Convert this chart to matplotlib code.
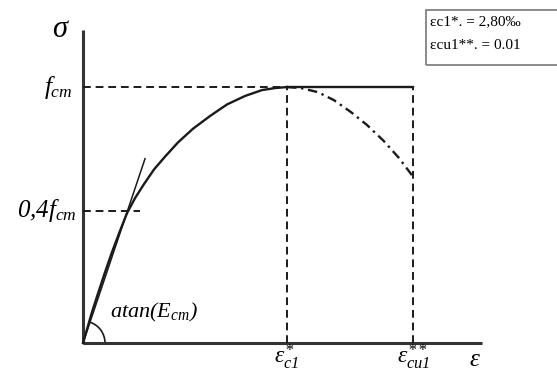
import matplotlib
matplotlib.use("Agg")
import matplotlib.pyplot as plt
from matplotlib.patches import Arc, Rectangle

plt.rcParams['mathtext.fontset'] = 'custom'
plt.rcParams['mathtext.rm'] = 'Liberation Serif:italic'
plt.rcParams['mathtext.it'] = 'Liberation Serif:italic'
plt.rcParams['mathtext.fallback'] = 'stix'
plt.rcParams['font.family'] = ['Liberation Serif', 'DejaVu Serif']

# strain in units of eps_c1, stress in units of f_cm
eps_c1 = 1.0
eps_cu1 = 1.62
f_cm = 1.0
lvl_04 = 0.516

# ascending branch
asc_x = [0.0, 0.020, 0.044, 0.074, 0.108, 0.142, 0.181, 0.216, 0.255, 0.299,
         0.348, 0.402, 0.466, 0.539, 0.623, 0.706, 0.794, 0.877, 0.941, 1.0]
asc_y = [0.0, 0.055, 0.121, 0.195, 0.277, 0.355, 0.4375, 0.508, 0.566, 0.621,
         0.678, 0.728, 0.784, 0.837, 0.887, 0.932, 0.965, 0.988, 0.996, 1.0]
# descending branch (dash-dot)
desc_x = [1.0, 1.069, 1.152, 1.230, 1.314, 1.392, 1.475, 1.549, 1.623]
desc_y = [1.0, 0.996, 0.980, 0.949, 0.902, 0.852, 0.789, 0.723, 0.645]
# secant line
sec_x = [0.0, 0.304]
sec_y = [0.0, 0.72]

legend_lines = ["εc1*. = 2,80‰", "εcu1**. = 0.01"]

fig = plt.figure(figsize=(5.57, 3.72), dpi=100)
ax = fig.add_axes([0, 0, 1, 1])
ax.set_xlim(-0.407, 2.324)
ax.set_ylim(-0.113, 1.340)
ax.axis('off')

ink = '#1a1a1a'
# axes
ax.plot([0, 0], [0, 1.223], color='#333333', lw=2.2, solid_capstyle='butt')
ax.plot([0, 1.956], [0, 0], color='#333333', lw=2.2, solid_capstyle='butt')

# curves
ax.plot(asc_x, asc_y, color=ink, lw=1.7)
ax.plot(desc_x, desc_y, color=ink, lw=1.7, ls=(0, (4, 2, 1, 2)))
ax.plot(sec_x, sec_y, color=ink, lw=1.1)

# guide lines
dash = (0, (4, 2.5))
ax.plot([0, eps_c1], [f_cm, f_cm], color=ink, lw=1.4, ls=dash)
ax.plot([eps_c1, eps_cu1], [f_cm, f_cm], color=ink, lw=1.7)
ax.plot([eps_c1, eps_c1], [0, f_cm], color=ink, lw=1.4, ls=dash)
ax.plot([eps_cu1, eps_cu1], [0, f_cm], color=ink, lw=1.4, ls=dash)
ax.plot([0, 0.28], [lvl_04, lvl_04], color=ink, lw=1.4, ls=dash)

# angle arc
ax.add_patch(Arc((0, 0), 0.216, 0.172, theta1=0, theta2=70, color=ink, lw=1.2))

# labels
ax.text(-0.11, 1.225, r'$\sigma$', fontsize=22, ha='center', va='center')
ax.text(-0.05, f_cm, r'$f_{cm}$', fontsize=18, ha='right', va='center')
ax.text(-0.03, lvl_04, r'$0{,}4f_{cm}$', fontsize=18, ha='right', va='center')
ax.text(0.13, 0.12, r'$atan(E_{cm})$', fontsize=16, ha='left', va='center')
ax.text(eps_c1, -0.108, r'$\varepsilon_{c1}^{*}$', fontsize=17, ha='center', va='bottom')
ax.text(eps_cu1, -0.108, r'$\varepsilon_{cu1}^{**}$', fontsize=17, ha='center', va='bottom')
ax.text(1.92, -0.108, r'$\varepsilon$', fontsize=18, ha='center', va='bottom')

# info box
ax.add_patch(Rectangle((1.681, 1.086), 0.7, 0.215, fill=False, edgecolor='#777777', lw=1.2))
ax.text(1.70, 1.254, legend_lines[0], fontsize=11, ha='left', va='center')
ax.text(1.70, 1.164, legend_lines[1], fontsize=11, ha='left', va='center')

fig.savefig('out.png', dpi=100)
